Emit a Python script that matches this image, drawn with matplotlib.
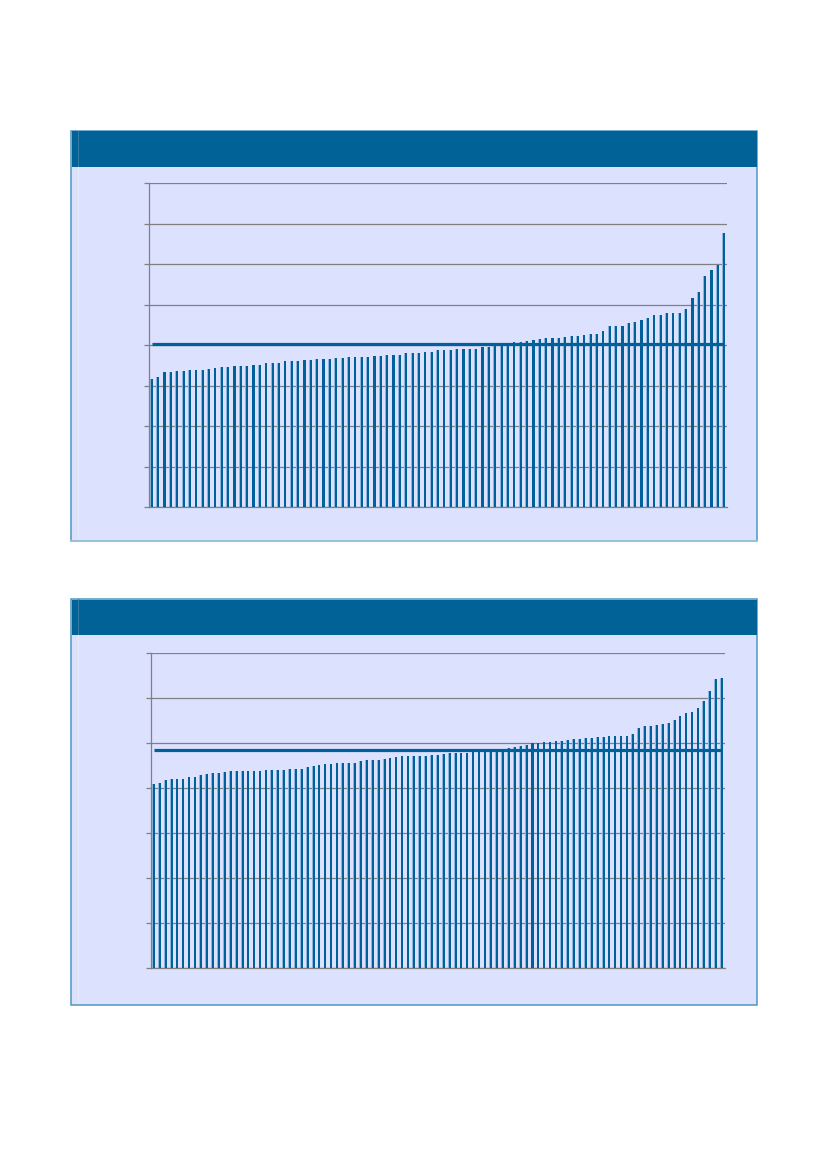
import numpy as np
import matplotlib
matplotlib.use("Agg")
import matplotlib.pyplot as plt
from matplotlib.patches import Rectangle
from matplotlib.lines import Line2D

# ── data (sorted ascending) ──────────────────────────────────────────────────
values_top = [
    63.2, 64.5, 66.8, 67.0, 67.3, 67.5, 67.6, 68.0, 68.0, 68.3,
    68.8, 69.3, 69.4, 69.6, 69.8, 69.9, 70.3, 70.3, 71.1, 71.1,
    71.3, 72.2, 72.4, 72.4, 72.7, 72.9, 73.2, 73.2, 73.4, 73.6,
    73.7, 74.1, 74.1, 74.1, 74.2, 74.6, 74.7, 75.0, 75.0, 75.4,
    76.0, 76.2, 76.4, 76.7, 76.7, 77.5, 77.5,
    77.7, 78.2, 78.2, 78.2, 78.3, 79.2, 79.2, 79.8, 80.0, 80.3,
    81.5, 81.5, 82.0, 82.6, 83.1, 83.4, 83.6, 83.6, 84.3, 84.6,
    84.6, 84.9, 85.6, 85.6, 86.9, 89.4, 89.4, 89.4, 91.0, 91.5,
    92.3, 93.5, 95.0, 95.1, 95.8, 96.0, 96.1, 97.9, 103.2, 106.3,
    114.4, 117.2, 119.8, 135.5,
]
ref_top = 80.5

values_bottom = [
    82.1, 82.5, 83.7, 84.0, 84.3, 84.3, 84.9, 85.2, 85.8, 86.5,
    86.8, 86.9, 87.2, 87.5, 87.5, 87.5, 87.7, 87.7, 87.7, 88.0,
    88.0, 88.0, 88.0, 88.4, 88.7, 88.7, 89.5, 89.8, 90.5, 90.7,
    90.7, 91.1, 91.2, 91.2, 91.4, 92.0, 92.4, 92.4, 92.6, 92.9,
    93.3, 93.8, 94.2, 94.2, 94.2, 94.4, 94.4, 94.7, 94.8, 95.1,
    95.5, 95.5, 95.6, 95.7, 96.6, 96.7, 96.8, 97.0, 97.2,
    97.5, 98.1, 98.5, 98.7, 99.2, 100.0, 100.3, 100.6, 100.7, 100.9,
    101.2, 101.5, 101.9, 101.9, 102.2, 102.4, 102.7, 102.8, 103.1, 103.2,
    103.2, 103.4, 104.0, 106.8, 107.7, 107.8, 108.0, 108.6, 108.9, 110.4,
    112.0, 113.5, 113.8, 115.7, 118.8, 123.4, 128.7, 129.0,
]
ref_bottom = 96.9

# ── styling ──────────────────────────────────────────────────────────────────
W, H = 827, 1169
HEADER = "#006296"
BODY = "#DCE1FE"
BORDER = "#4F97C3"
BAR_DARK = "#00609A"
BAR_LIGHT = "#8DB4DC"
GRID = "#808080"


def px_rect(fig, x0, y0, x1, y1, z, **kw):
    # rectangle given in pixel coords (origin top-left), kept behind the axes
    fig.patches.append(Rectangle((x0 / W, 1 - y1 / H), (x1 - x0) / W, (y1 - y0) / H,
                                 transform=fig.transFigure, zorder=z, **kw))


def panel_frame(fig, y0, y_head, y1, bottom_edge=None):
    px_rect(fig, 71, y0, 757, y1, -3, facecolor=BODY, edgecolor=BORDER, lw=1.1)
    px_rect(fig, 71.5, y0 + 0.5, 756.5, y_head, -2, facecolor=HEADER, edgecolor="none")
    # faint rendering seams at the left edge
    fig.lines.append(Line2D([78.3 / W] * 2, [1 - y0 / H, 1 - y_head / H],
                            transform=fig.transFigure, color="#2F7BAA", lw=0.8, zorder=-1))
    fig.lines.append(Line2D([78.3 / W] * 2, [1 - y_head / H, 1 - (y1 - 2) / H],
                            transform=fig.transFigure, color="#E6EAFF", lw=0.8, zorder=-1))
    if bottom_edge:
        fig.lines.append(Line2D([71 / W, 757 / W], [1 - y1 / H] * 2,
                                transform=fig.transFigure, color=bottom_edge, lw=1.3, zorder=-1))


def draw_bars(ax, values, ref, ymax):
    n = len(values)
    x = np.arange(n)
    ax.bar(x - 0.10, values, width=0.32, color=BAR_LIGHT, zorder=2)
    ax.bar(x + 0.02, values, width=0.34, color=BAR_DARK, zorder=3)
    ax.plot(x, [ref] * n, color=BAR_DARK, lw=2.3, solid_capstyle="butt", zorder=4)
    ax.set_xlim(-0.5, n - 0.5)
    ax.set_ylim(0, ymax)
    ax.set_yticks(np.arange(0, ymax + 1, 20))
    ax.yaxis.grid(True, color=GRID, lw=0.9, zorder=1)
    ax.set_axisbelow(True)
    ax.patch.set_visible(False)
    for s in ("top", "right"):
        ax.spines[s].set_visible(False)
    for s in ("left", "bottom"):
        ax.spines[s].set_color(GRID)
        ax.spines[s].set_linewidth(0.9)
    ax.tick_params(axis="y", length=3.6, width=0.9, color=GRID, labelleft=False)
    ax.tick_params(axis="x", length=0, labelbottom=False)


fig = plt.figure(figsize=(W / 100, H / 100), dpi=100)
fig.patch.set_facecolor("white")

panel_frame(fig, 131, 167, 541, bottom_edge="#9DC3DB")
panel_frame(fig, 599, 635, 1005)

ax1 = fig.add_axes([148.5 / W, 1 - 507.3 / H, 578.8 / W, 324.0 / H])
draw_bars(ax1, values_top, ref_top, 160)

ax2 = fig.add_axes([150.7 / W, 1 - 968.3 / H, 574.0 / W, 315.0 / H])
draw_bars(ax2, values_bottom, ref_bottom, 140)

fig.savefig("out.png", dpi=100)
